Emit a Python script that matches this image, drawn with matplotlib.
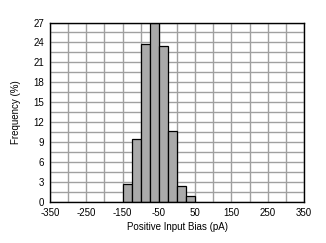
import numpy as np
import matplotlib
matplotlib.use("Agg")
import matplotlib.pyplot as plt

# Histogram bins (pA) and frequency (%)
bin_left = [-150, -125, -100, -75, -50, -25, 0, 25]
bin_width = 25
freq = [2.75, 9.45, 23.75, 27.0, 23.4, 10.65, 2.4, 0.9]

x_ticks = [-350, -250, -150, -50, 50, 150, 250, 350]
y_ticks = [0, 3, 6, 9, 12, 15, 18, 21, 24, 27]

plt.rcParams["font.family"] = ["Liberation Sans", "DejaVu Sans"]
plt.rcParams["axes.unicode_minus"] = False

fig = plt.figure(figsize=(3.26, 2.43), dpi=100)
ax = fig.add_axes([0.1534, 0.1687, 0.7791, 0.7387])

# grid every 50 pA / 1.5 %
for xv in np.arange(-350, 351, 50):
    ax.axvline(xv, color="#a0a0a0", lw=1.0, zorder=0)
for yv in np.arange(0, 27.01, 1.5):
    ax.axhline(yv, color="#a0a0a0", lw=1.0, zorder=0)

ax.bar(bin_left, freq, width=bin_width, align="edge", color="#aaaaaa",
       edgecolor="black", linewidth=0.9, zorder=2)

ax.set_xlim(-350, 350)
ax.set_ylim(0, 27)
ax.set_xticks(x_ticks)
ax.set_yticks(y_ticks)
ax.tick_params(length=0, labelsize=7, pad=4)
for s in ax.spines.values():
    s.set_color("black")
    s.set_linewidth(1.0)
    s.set_zorder(3)

ax.set_xlabel("Positive Input Bias (pA)", fontsize=7, labelpad=3)
ax.set_ylabel("Frequency (%)", fontsize=7, labelpad=9)

fig.savefig("out.png", dpi=100)
